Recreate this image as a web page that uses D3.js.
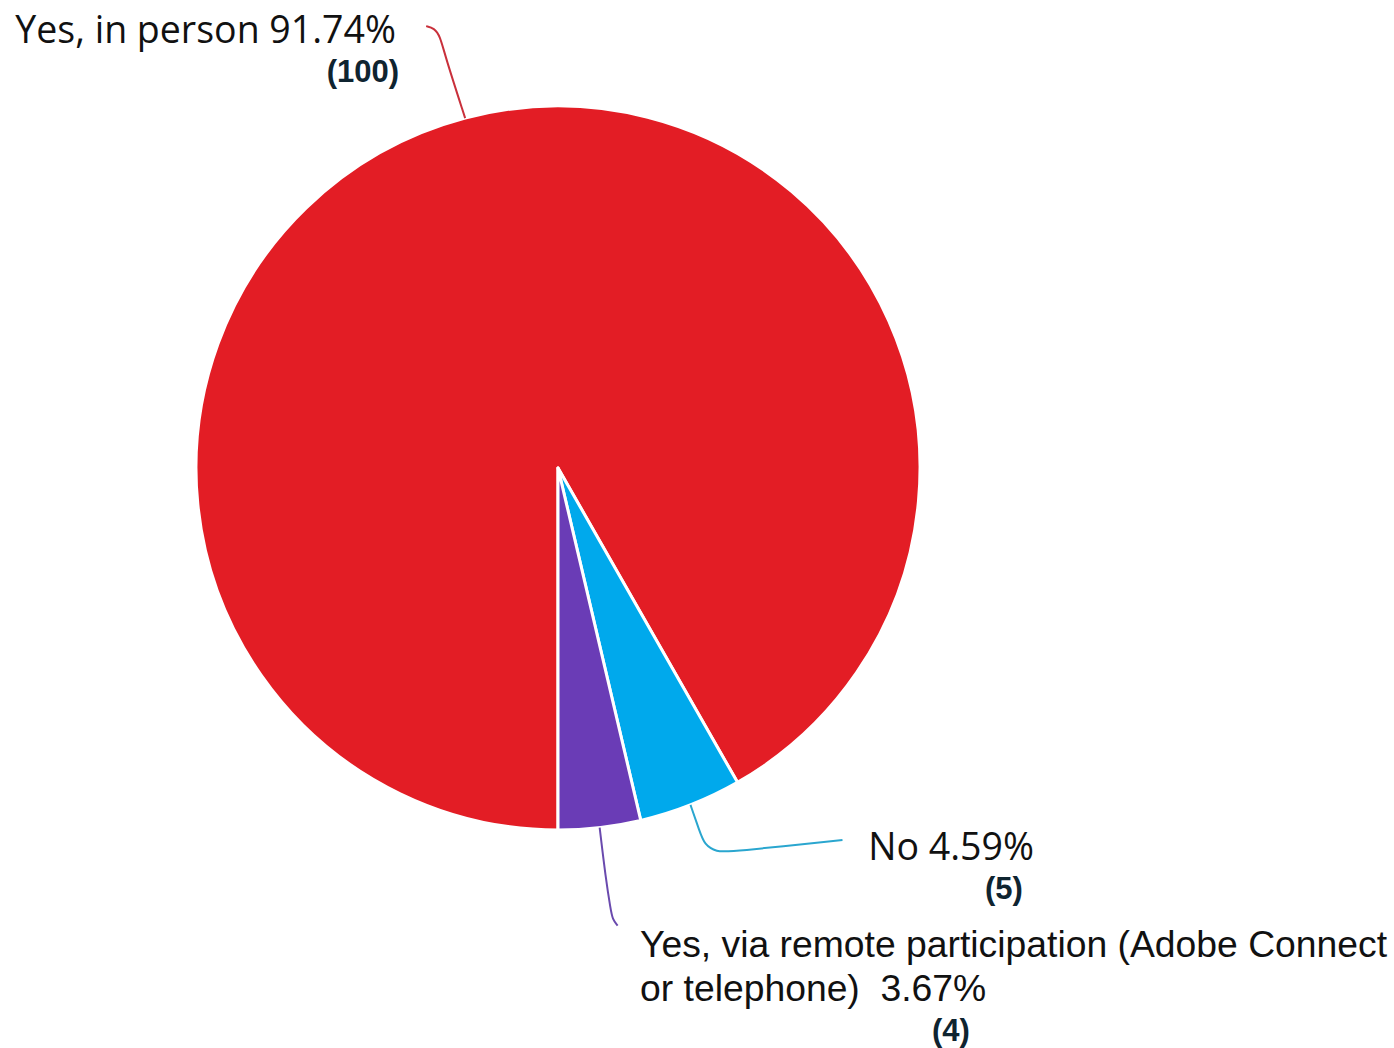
<!DOCTYPE html>
<html>
<head>
<meta charset="utf-8">
<script src="https://cdn.jsdelivr.net/npm/d3@7"></script>
<style>
  html, body { margin: 0; padding: 0; background: #ffffff; }
  svg { display: block; }
</style>
</head>
<body>
<svg id="chart" width="1394" height="1048"></svg>
<script>
// Survey answers: did you attend?
const categories = [
  "Yes, in person",
  "No",
  "Yes, via remote participation (Adobe Connect or telephone)"
];
const counts = [100, 5, 4];
const percentLabels = ["91.74%", "4.59%", "3.67%"];
const colors = ["#e31d25", "#00a9ec", "#6a3cb6"];
const lineColors = ["#c9303b", "#2aa6cf", "#6a4aae"];

const svg = d3.select("#chart");
const cx = 558, cy = 468, R = 362;

const data = categories.map((c, i) => ({ cat: c, count: counts[i], pct: percentLabels[i], i }));

// slices start at 6 o'clock and run clockwise
const pie = d3.pie()
  .value(d => d.count)
  .sort(null)
  .startAngle(Math.PI)
  .endAngle(3 * Math.PI);

const arcs = pie(data);
const arc = d3.arc().innerRadius(0).outerRadius(R);

const g = svg.append("g").attr("transform", `translate(${cx},${cy})`);

g.selectAll("path.slice")
  .data(arcs)
  .join("path")
  .attr("class", "slice")
  .attr("d", arc)
  .attr("fill", d => colors[d.data.i])
  .attr("stroke", "#ffffff")
  .attr("stroke-width", 3)
  .attr("stroke-linejoin", "round");

// point on the rim at a slice's middle angle
function rimPoint(a) {
  const m = (a.startAngle + a.endAngle) / 2;
  return [R * Math.sin(m), -R * Math.cos(m)];
}

// leader paths: offsets from the rim point, smoothed
const leaderOffsets = [
  [[0, 0], [-20, -62], [-25, -82], [-31, -90], [-39, -92]],
  [[0, 0], [9, 26], [14, 40], [26, 47], [40, 47], [152, 35]],
  [[0, 0], [6, 50], [11, 82], [13, 92], [18, 98]]
];

const line = d3.line().curve(d3.curveBasis);

g.selectAll("path.leader")
  .data(arcs)
  .join("path")
  .attr("class", "leader")
  .attr("fill", "none")
  .attr("stroke", d => lineColors[d.data.i])
  .attr("stroke-width", 2)
  .attr("d", d => {
    const [px, py] = rimPoint(d);
    return line(leaderOffsets[d.data.i].map(([dx, dy]) => [px + dx, py + dy]));
  });

const labels = svg.append("g");
const sansUI = "'Open Sans', 'DejaVu Sans', sans-serif";
const sansArial = "'Liberation Sans', Arial, sans-serif";

// "Yes, in person"
labels.append("text")
  .attr("x", 396).attr("y", 43)
  .attr("text-anchor", "end")
  .attr("font-family", sansUI)
  .attr("font-size", 37.5)
  .attr("fill", "#111111")
  .text(`${data[0].cat} ${data[0].pct}`);
labels.append("text")
  .attr("x", 399).attr("y", 82)
  .attr("text-anchor", "end")
  .attr("font-family", sansArial)
  .attr("font-weight", "bold")
  .attr("font-size", 31)
  .attr("fill", "#0f2430")
  .text(`(${data[0].count})`);

// "No"
labels.append("text")
  .attr("x", 1034).attr("y", 860)
  .attr("text-anchor", "end")
  .attr("font-family", sansUI)
  .attr("font-size", 37.5)
  .attr("fill", "#111111")
  .text(`${data[1].cat} ${data[1].pct}`);
labels.append("text")
  .attr("x", 1004).attr("y", 899)
  .attr("text-anchor", "middle")
  .attr("font-family", sansArial)
  .attr("font-weight", "bold")
  .attr("font-size", 31)
  .attr("fill", "#0f2430")
  .text(`(${data[1].count})`);

// remote participation, wrapped on two lines
const remote = labels.append("text")
  .attr("font-family", sansArial)
  .attr("font-size", 37.3)
  .attr("fill", "#111111");
remote.append("tspan")
  .attr("x", 640).attr("y", 957)
  .text("Yes, via remote participation (Adobe Connect");
remote.append("tspan")
  .attr("x", 640).attr("y", 1001)
  .text("or telephone)\u00a0\u00a0" + data[2].pct);
labels.append("text")
  .attr("x", 951).attr("y", 1041)
  .attr("text-anchor", "middle")
  .attr("font-family", sansArial)
  .attr("font-weight", "bold")
  .attr("font-size", 31)
  .attr("fill", "#0f2430")
  .text(`(${data[2].count})`);
</script>
</body>
</html>
